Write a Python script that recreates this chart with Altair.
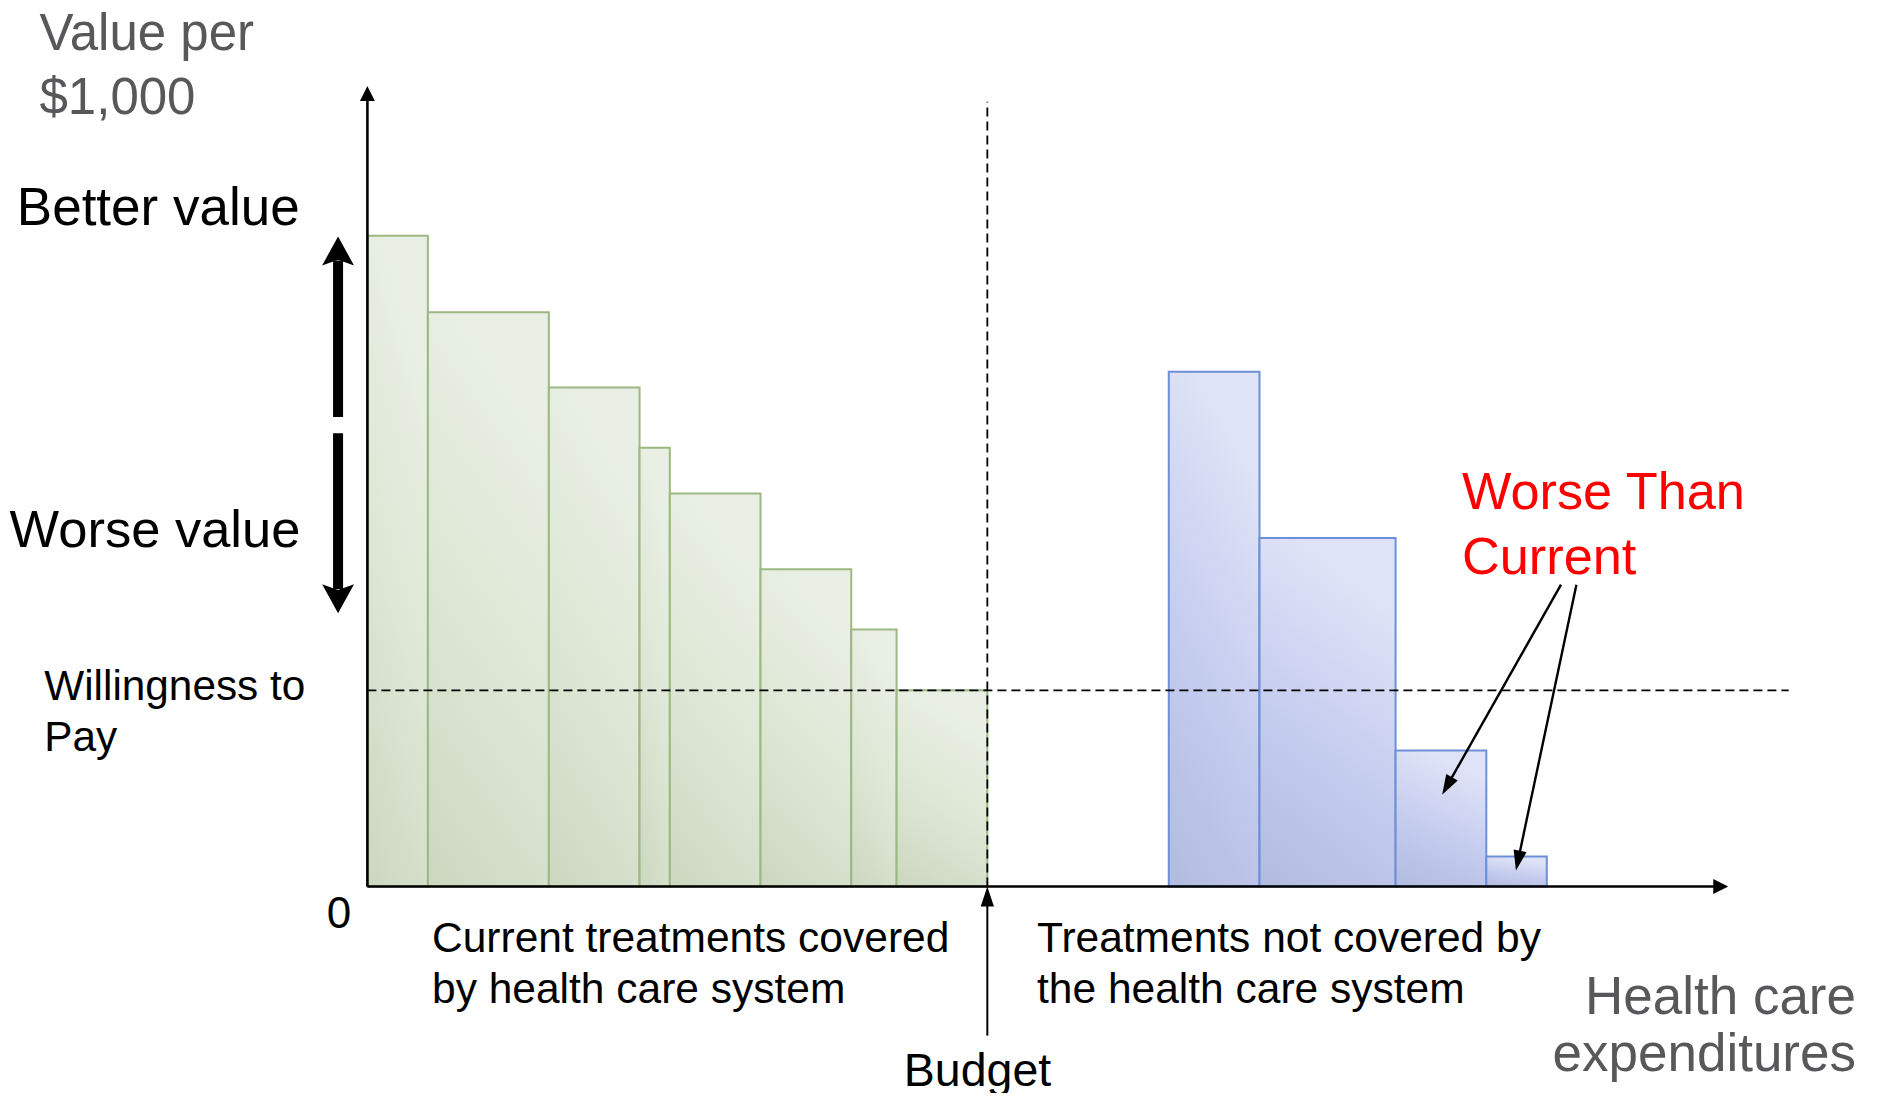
import math
import altair as alt
import pandas as pd

# ---------------- data ----------------
# currently covered treatments: cost (width, expenditure units) and value per $1,000
covered_cost = [2, 4, 3, 1, 3, 3, 1.5, 3]
covered_value = [99.5, 87.8, 76.3, 67.1, 60.1, 48.5, 39.3, 30.0]
# treatments not covered
new_start = 26.5
new_cost = [3, 4.5, 3, 2]
new_value = [78.7, 53.3, 20.8, 4.6]
# willingness-to-pay threshold
wtp = 30.0
# extents of the diagram axes / guide lines
y_axis_top = 122.4
x_axis_end = 45.0
wtp_line_end = 47.0
budget_line_top = 120.0
budget_arrow_bottom = -22.8
# "Better value" / "Worse value" arrows (x, from, to)
better_arrow = (-0.97, 71.8, 99.4)
worse_arrow = (-0.97, 69.3, 41.8)
# "Worse Than Current" callout arrows: (x_from, y_from, x_to, y_to)
callouts = [(39.47, 46.16, 35.54, 14.05), (39.98, 46.16, 37.98, 2.46)]

# ---------------- layout ----------------
W, H = 1856, 1085
XMIN, XMAX = -11.885, 49.49
YMAX = 134.33
SY = 6.54                      # pixels per value unit
YMIN = YMAX - H / SY
SX = W / (XMAX - XMIN)
FONT = "Liberation Sans"

xs = alt.Scale(domain=[XMIN, XMAX], nice=False, zero=False)
ys = alt.Scale(domain=[YMIN, YMAX], nice=False, zero=False)


def X(f):
    return alt.X(f, type="quantitative", scale=xs, axis=None)


def Y(f):
    return alt.Y(f, type="quantitative", scale=ys, axis=None)


# bars
cov_x0 = [sum(covered_cost[:i]) for i in range(len(covered_cost))]
cov_x1 = [a + c for a, c in zip(cov_x0, covered_cost)]
budget = cov_x1[-1]
new_x0 = [new_start + sum(new_cost[:i]) for i in range(len(new_cost))]
new_x1 = [a + c for a, c in zip(new_x0, new_cost)]

cov_df = pd.DataFrame({"x0": cov_x0, "x1": cov_x1, "base": 0.0, "value": covered_value})
new_df = pd.DataFrame({"x0": new_x0, "x1": new_x1, "base": 0.0, "value": new_value})

green_grad = alt.Gradient(
    gradient="linear", x1=0.3, y1=0, x2=0, y2=1,
    stops=[alt.GradientStop(color="#e9efe4", offset=0),
           alt.GradientStop(color="#dde6d4", offset=0.5),
           alt.GradientStop(color="#ccd7c0", offset=1)])
blue_grad = alt.Gradient(
    gradient="linear", x1=0.3, y1=0, x2=0, y2=1,
    stops=[alt.GradientStop(color="#dfe3f7", offset=0),
           alt.GradientStop(color="#c3cbee", offset=0.55),
           alt.GradientStop(color="#b1bbe0", offset=1)])

green = alt.Chart(cov_df).mark_rect(fill=green_grad, stroke="#9bb981", strokeWidth=2).encode(
    x=X("x0"), x2="x1", y=Y("base"), y2="value")
blue = alt.Chart(new_df).mark_rect(fill=blue_grad, stroke="#6d8fd8", strokeWidth=2).encode(
    x=X("x0"), x2="x1", y=Y("base"), y2="value")

# dashed guide lines
dash_df = pd.DataFrame({
    "x": [0.0, budget], "x2": [wtp_line_end, budget],
    "y": [wtp, 0.0], "y2": [wtp, budget_line_top]})
dashed = alt.Chart(dash_df).mark_rule(color="black", strokeWidth=1.8, strokeDash=[9, 5]).encode(
    x=X("x"), x2="x2", y=Y("y"), y2="y2")

# arrow heads
AXIS_HEAD = "M0,0 L0.5,1 L-0.5,1 Z"      # r = 15
THIN_HEAD = "M0,0 L0.33,1 L-0.33,1 Z"    # r = 20
THICK_HEAD = "M0,0 L0.55,1 L0,0.8 L-0.55,1 Z"  # r = 29


def head_angle(x0, y0, x1, y1):
    dx = (x1 - x0) * SX
    dy = -(y1 - y0) * SY
    return math.degrees(math.atan2(dx, -dy)) % 360


def back_off(x0, y0, x1, y1, px):
    dx = (x1 - x0) * SX
    dy = (y1 - y0) * SY
    d = math.hypot(dx, dy)
    return x1 - dx / d * px / SX, y1 - dy / d * px / SY


# thin arrows: axes, budget, callouts
thin = []   # x, y, x2, y2, width
heads_axis = []
heads_thin = []
# y axis
ye = back_off(0, 0, 0, y_axis_top, 8)
thin.append((0, 0, ye[0], ye[1], 2.6))
heads_axis.append((0, y_axis_top, head_angle(0, 0, 0, y_axis_top)))
# x axis
xe = back_off(0, 0, x_axis_end, 0, 8)
thin.append((0, 0, xe[0], xe[1], 2.6))
heads_axis.append((x_axis_end, 0, head_angle(0, 0, x_axis_end, 0)))
# budget
be = back_off(budget, budget_arrow_bottom, budget, 0, 10)
thin.append((budget, budget_arrow_bottom, be[0], be[1], 2))
heads_thin.append((budget, 0, head_angle(budget, budget_arrow_bottom, budget, 0)))
# callouts
for (a, b, c, d) in callouts:
    e = back_off(a, b, c, d, 10)
    thin.append((a, b, e[0], e[1], 2.4))
    heads_thin.append((c, d, head_angle(a, b, c, d)))

thin_df = pd.DataFrame(thin, columns=["x", "y", "x2", "y2", "w"])
thin_rules = alt.Chart(thin_df).mark_rule(color="black").encode(
    x=X("x"), x2="x2", y=Y("y"), y2="y2",
    strokeWidth=alt.StrokeWidth("w:Q", scale=None))

# thick arrows
thick = []
heads_thick = []
for (x, a, b) in [better_arrow, worse_arrow]:
    e = back_off(x, a, x, b, 24)
    thick.append((x, a, e[0], e[1]))
    heads_thick.append((x, b, head_angle(x, a, x, b)))
thick_df = pd.DataFrame(thick, columns=["x", "y", "x2", "y2"])
thick_rules = alt.Chart(thick_df).mark_rule(color="black", strokeWidth=10, strokeCap="butt").encode(
    x=X("x"), x2="x2", y=Y("y"), y2="y2")


def heads(rows, shape, r):
    df = pd.DataFrame(rows, columns=["x", "y", "angle"])
    return alt.Chart(df).mark_point(shape=shape, filled=True, color="black", opacity=1,
                                    size=(2 * r) ** 2, strokeWidth=0).encode(
        x=X("x"), y=Y("y"), angle=alt.Angle("angle:Q", scale=None))


# ---------------- text ----------------
_one = pd.DataFrame({"a": [0]})


def label(text, x, y, size, color="black", align="left", lh=None):
    kw = dict(text=text, align=align, baseline="alphabetic", fontSize=size, color=color, font=FONT)
    if lh:
        kw["lineHeight"] = lh
    return alt.Chart(_one).mark_text(**kw).encode(x=alt.value(x), y=alt.value(y))


texts = [
    label(["Value per", "$1,000"], 31.5, 42, 51, "#58585a", lh=64),
    label("Better value", 8.8, 217, 53),
    label("Worse value", 1.6, 539, 52.5),
    label(["Willingness to", "Pay"], 36.3, 692, 42.3, lh=51),
    label("0", 331, 920, 44, align="center"),
    label(["Current treatments covered", "by health care system"], 424, 943.7, 42.5, lh=51),
    label(["Treatments not covered by", "the health care system"], 1029, 943.7, 42.5, lh=51),
    label("Budget", 969.5, 1078, 46.5, align="center"),
    label(["Health care", "expenditures"], 1848, 1006, 53, "#58585a", align="right", lh=57),
    label(["Worse Than", "Current"], 1454, 500.6, 52.3, "#ff0000", lh=65),
]

chart = alt.layer(
    green, blue, dashed, thin_rules, thick_rules,
    heads(heads_axis, AXIS_HEAD, 15),
    heads(heads_thin, THIN_HEAD, 20),
    heads(heads_thick, THICK_HEAD, 29),
    *texts,
).properties(
    width=W, height=H, padding=0,
    autosize=alt.AutoSizeParams(type="none"),
    background="white",
).configure_view(stroke=None)

chart.save("out.html", embed_options={"renderer": "svg", "actions": False})
